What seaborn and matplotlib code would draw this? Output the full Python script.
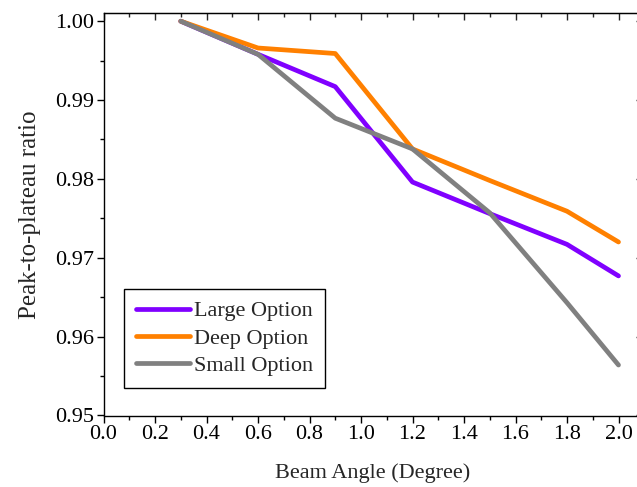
import numpy as np
import pandas as pd
import matplotlib
matplotlib.use('Agg')
import matplotlib.pyplot as plt
from matplotlib.ticker import MultipleLocator
import seaborn as sns

# data
beam_angle = [0.3, 0.6, 0.9, 1.2, 1.5, 1.8, 2.0]
large_option = [1.0000, 0.9958, 0.9917, 0.9796, 0.9756, 0.9717, 0.9677]
deep_option = [1.0000, 0.9966, 0.9959, 0.9838, 0.9798, 0.9759, 0.9720]
small_option = [1.0000, 0.9958, 0.9877, 0.9838, 0.9757, 0.9643, 0.9564]
series_names = ['Large Option', 'Deep Option', 'Small Option']
series_colors = ['#8000FF', '#FF8000', '#808080']

df = pd.DataFrame({
    'Beam Angle': beam_angle * 3,
    'Ratio': large_option + deep_option + small_option,
    'Series': sum([[n] * len(beam_angle) for n in series_names], []),
})

sns.set_style('ticks')
plt.rcParams['font.family'] = ['Liberation Serif', 'DejaVu Serif']

fig = plt.figure(figsize=(6.37, 4.87), dpi=100)
# right spine sits just outside the canvas, as in the original
left_px, right_px, top_px, bottom_px = 103.5, 642.5, 13.3, 415.5
ax = fig.add_axes([left_px / 637, 1 - bottom_px / 487,
                   (right_px - left_px) / 637, (bottom_px - top_px) / 487])

sns.lineplot(data=df, x='Beam Angle', y='Ratio', hue='Series', hue_order=series_names,
             palette=dict(zip(series_names, series_colors)), linewidth=3.4,
             sort=False, ax=ax)

ax.set_xlim(0, 2.0 * (right_px - left_px) / 515.0)
ax.set_ylim(0.95, 1.001)
ax.xaxis.set_major_locator(MultipleLocator(0.2))
ax.xaxis.set_minor_locator(MultipleLocator(0.1))
ax.yaxis.set_major_locator(MultipleLocator(0.01))
ax.yaxis.set_minor_locator(MultipleLocator(0.005))
ax.xaxis.set_major_formatter(plt.FormatStrFormatter('%.1f'))
ax.yaxis.set_major_formatter(plt.FormatStrFormatter('%.2f'))

for s in ax.spines.values():
    s.set_visible(True)
    s.set_linewidth(1.0)
    s.set_color('black')

ax.tick_params(which='both', direction='out', bottom=True, left=True, top=False, right=False,
               labelsize=16, colors='black', width=1.0, pad=2)
ax.tick_params(which='major', length=5)
ax.tick_params(which='minor', length=3)

# inward ticks on top and right, like the original
top = ax.secondary_xaxis('top')
top.xaxis.set_major_locator(MultipleLocator(0.2))
top.xaxis.set_minor_locator(MultipleLocator(0.1))
top.tick_params(which='both', direction='in', labeltop=False, width=1.0)
top.tick_params(which='major', length=5)
top.tick_params(which='minor', length=3)
right = ax.secondary_yaxis('right')
right.yaxis.set_major_locator(MultipleLocator(0.01))
right.yaxis.set_minor_locator(MultipleLocator(0.005))
right.tick_params(which='both', direction='in', labelright=False, width=1.0)
right.tick_params(which='major', length=5)
right.tick_params(which='minor', length=3)

ax.set_xlabel('Beam Angle (Degree)', fontsize=16, labelpad=14)
ax.set_ylabel('Peak-to-plateau ratio', fontsize=18, labelpad=10)

leg = ax.legend(loc='lower left', bbox_to_anchor=(0.038, 0.068), borderaxespad=0,
                fontsize=16, frameon=True, fancybox=False, edgecolor='black', framealpha=1,
                handlelength=2.4, handletextpad=0.2, borderpad=0.55, labelspacing=0.3)
leg.get_frame().set_linewidth(1.0)

fig.savefig('out.png', dpi=100)
